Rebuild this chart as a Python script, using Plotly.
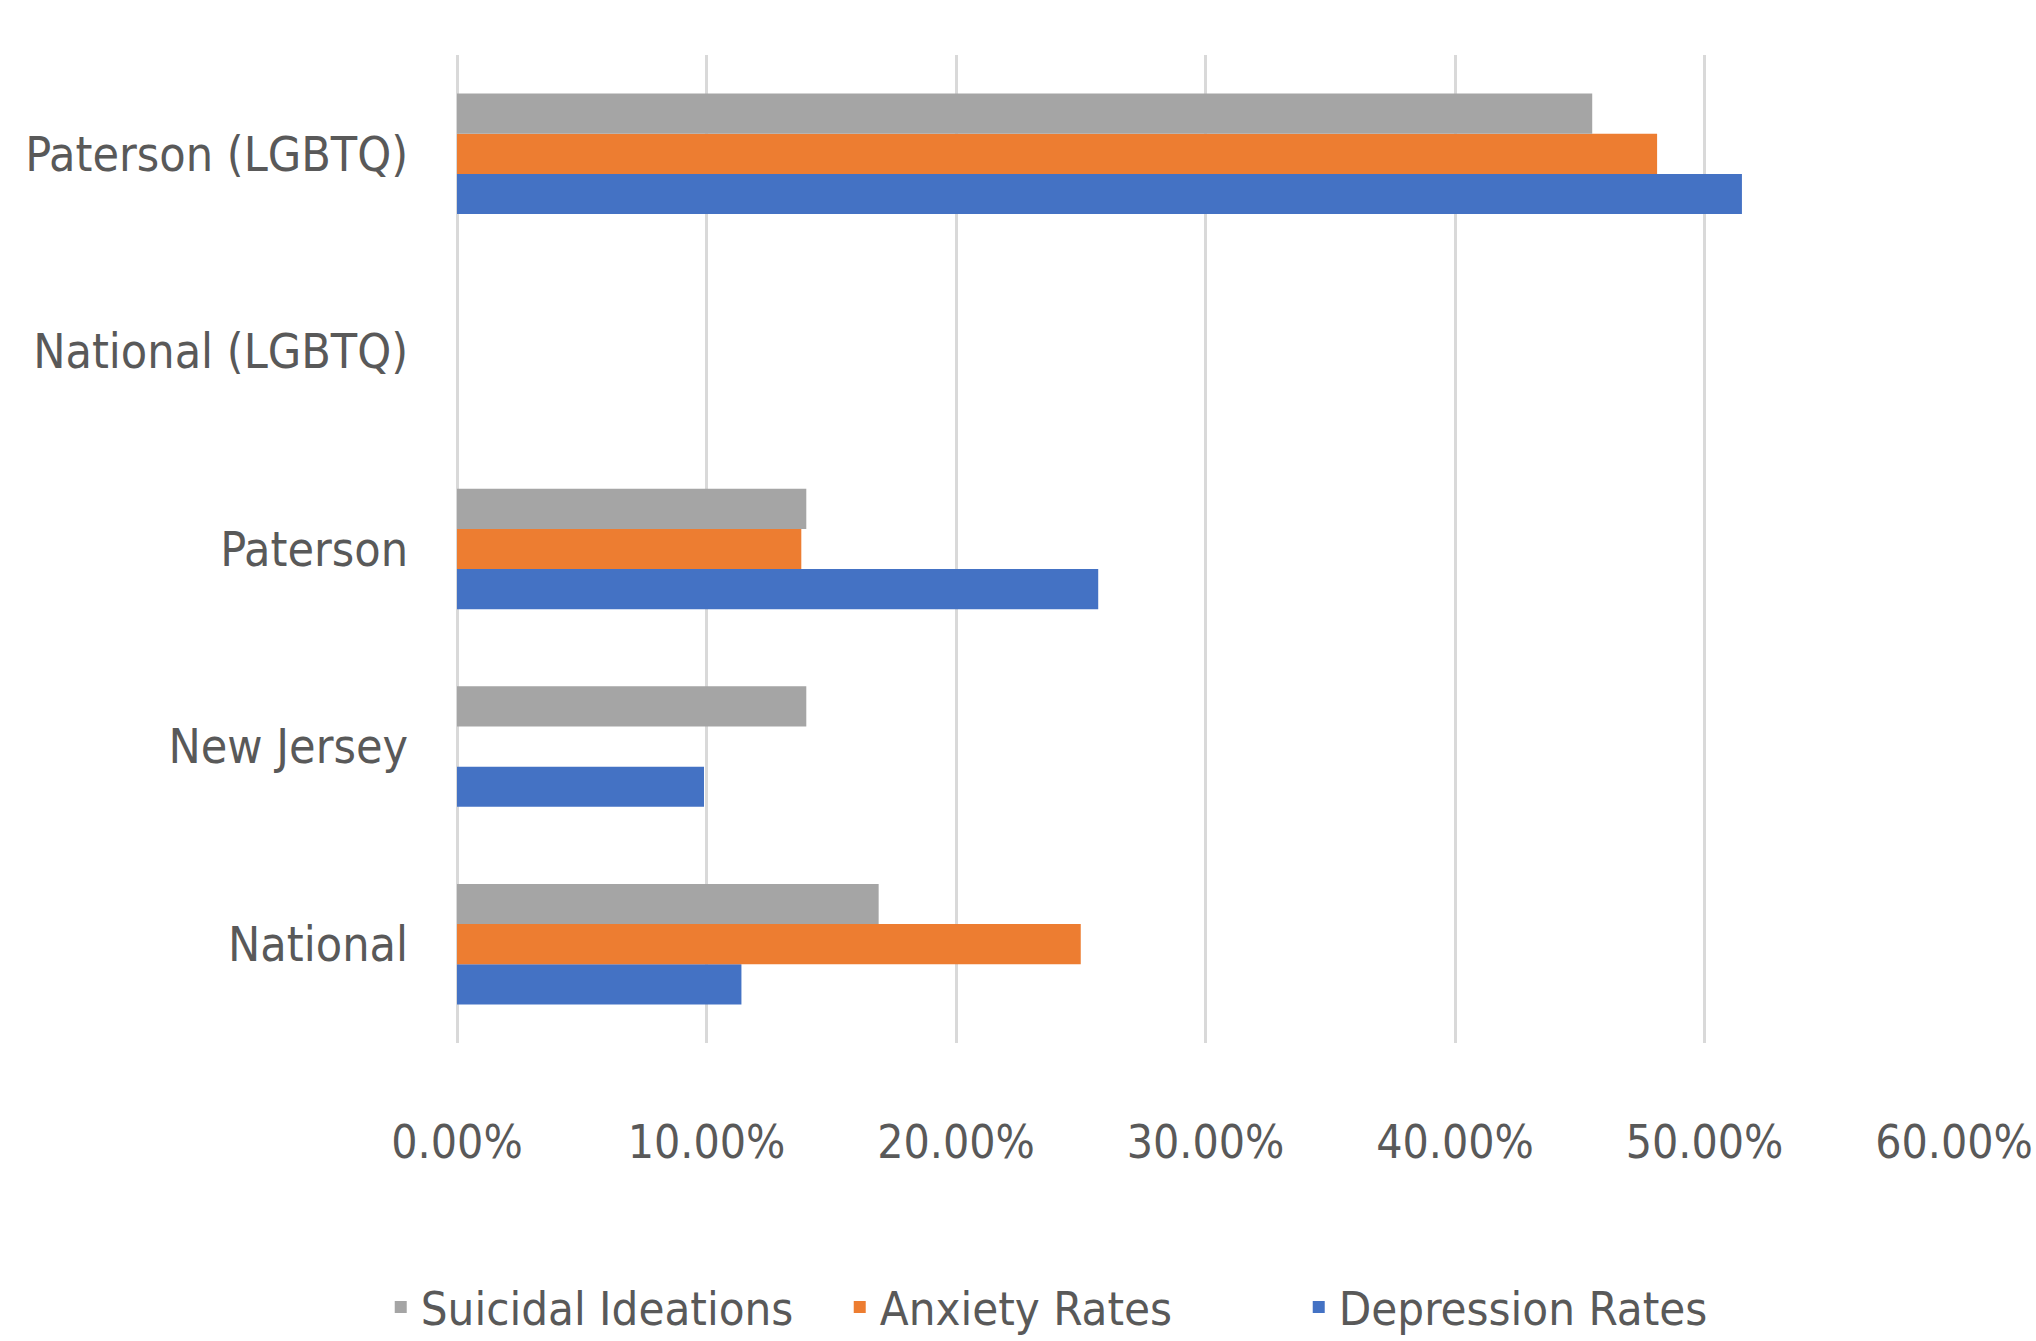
import plotly.graph_objects as go

categories = ["National", "New Jersey", "Paterson", "National (LGBTQ)", "Paterson (LGBTQ)"]
depression = [0.114, 0.099, 0.257, None, 0.515]
anxiety = [0.250, None, 0.138, None, 0.481]
suicidal = [0.169, 0.140, 0.140, None, 0.455]
x_ticks = [0, 0.1, 0.2, 0.3, 0.4, 0.5, 0.6]

FONT = "DejaVu Sans Condensed, Liberation Sans Narrow, Liberation Sans, Arial, sans-serif"
TXT = "#595959"

fig = go.Figure()
fig.add_trace(go.Bar(y=categories, x=depression, name="Depression Rates", orientation="h",
                     marker=dict(color="#4472C4", line=dict(width=0))))
fig.add_trace(go.Bar(y=categories, x=anxiety, name="Anxiety Rates", orientation="h",
                     marker=dict(color="#ED7D31", line=dict(width=0))))
fig.add_trace(go.Bar(y=categories, x=suicidal, name="Suicidal Ideations", orientation="h",
                     marker=dict(color="#A5A5A5", line=dict(width=0))))

fig.update_layout(
    width=2036, height=1341,
    margin=dict(l=457, r=82, t=55, b=298, autoexpand=False),
    paper_bgcolor="white", plot_bgcolor="white",
    barmode="group", bargap=0.39, bargroupgap=0,
    font=dict(family=FONT, size=47, color=TXT),
    showlegend=True,
    legend=dict(orientation="h", traceorder="reversed",
                xref="container", yref="container",
                x=0.187, y=0.025, xanchor="left", yanchor="middle",
                entrywidth=414, entrywidthmode="pixels",
                font=dict(family=FONT, size=47, color=TXT),
                bgcolor="rgba(0,0,0,0)"),
)
fig.update_xaxes(range=[0, 0.6], tickvals=x_ticks, tickformat=".2%",
                 showgrid=True, gridcolor="#D9D9D9", gridwidth=3,
                 zeroline=True, zerolinecolor="#D9D9D9", zerolinewidth=3,
                 showline=False, ticks="", ticklabelstandoff=68, automargin=False,
                 tickfont=dict(family=FONT, size=46, color=TXT))
fig.update_yaxes(categoryorder="array", categoryarray=categories,
                 showgrid=False, zeroline=False, showline=False, ticks="",
                 ticklabelstandoff=48, automargin=False,
                 tickfont=dict(family=FONT, size=48, color=TXT))

fig.write_html("out.html")
